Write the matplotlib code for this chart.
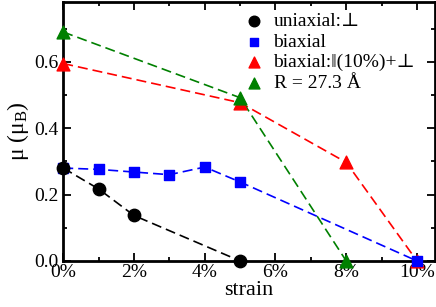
import matplotlib
matplotlib.use('Agg')
from matplotlib import pyplot as plt
from matplotlib.ticker import MultipleLocator, FuncFormatter

plt.rcParams['font.family'] = ['Liberation Serif', 'DejaVu Serif']
plt.rcParams['mathtext.fontset'] = 'custom'
plt.rcParams['mathtext.rm'] = 'Liberation Serif'
plt.rcParams['mathtext.it'] = 'Liberation Serif:italic'

# strain (%) and moment (mu_B)
uni_x = [0, 1, 2, 5]
uni_y = [0.28, 0.217, 0.137, 0.0]
bi_x = [0, 1, 2, 3, 4, 5, 10]
bi_y = [0.28, 0.276, 0.268, 0.26, 0.283, 0.238, 0.0]
bipar_x = [0, 5, 8, 10]
bipar_y = [0.595, 0.477, 0.297, 0.0]
r_x = [0, 5, 8]
r_y = [0.69, 0.492, 0.0]

labels = ['uniaxial:\u22a5', 'biaxial', 'biaxial:\u2016(10%)+\u22a5', 'R = 27.3 \u00c5']

fig = plt.figure(figsize=(4.36, 3.07), dpi=100)
ax = fig.add_axes([0.145, 0.15, 0.852, 0.843])

ax.plot(uni_x, uni_y, '--', c='black', lw=1.2, dashes=(6, 3), zorder=2)
ax.plot(bi_x, bi_y, '--', c='blue', lw=1.2, dashes=(6, 3), zorder=2)
ax.plot(bipar_x, bipar_y, '--', c='red', lw=1.2, dashes=(6, 3), zorder=2)
ax.plot(r_x, r_y, '--', c='green', lw=1.2, dashes=(6, 3), zorder=2)

ax.scatter(uni_x, uni_y, marker='o', s=80, c='black', label=labels[0], zorder=5, clip_on=False)
ax.scatter(bi_x, bi_y, marker='s', s=45, c='blue', label=labels[1], zorder=4, clip_on=False)
ax.scatter(bipar_x, bipar_y, marker='^', s=85, c='red', label=labels[2], zorder=3, clip_on=False)
ax.scatter(r_x, r_y, marker='^', s=85, c='green', label=labels[3], zorder=3, clip_on=False)

ax.set_xlim(0, 10.5)
ax.set_ylim(0, 0.78)
ax.xaxis.set_major_locator(MultipleLocator(2))
ax.xaxis.set_minor_locator(MultipleLocator(1))
ax.yaxis.set_major_locator(MultipleLocator(0.2))
ax.yaxis.set_minor_locator(MultipleLocator(0.1))
ax.xaxis.set_major_formatter(FuncFormatter(lambda v, p: '%d%%' % round(v)))
ax.yaxis.set_major_formatter(FuncFormatter(lambda v, p: '%.1f' % v))
ax.tick_params(which='both', direction='in', top=True, right=True, labelsize=14, width=1.3)
ax.tick_params(which='major', length=6)
ax.tick_params(which='minor', length=3)
ax.tick_params(axis='x', pad=2)
for s in ax.spines.values():
    s.set_linewidth(2)

ax.set_xlabel('strain', fontsize=16, labelpad=0)
ax.set_ylabel('\u03bc (\u03bc$_\\mathrm{B}$)', fontsize=17, labelpad=2)

ax.legend(loc='upper right', bbox_to_anchor=(0.99, 1.02), frameon=False, fontsize=14,
          handletextpad=0.0, labelspacing=0.15, borderpad=0.3, scatterpoints=1,
          markerscale=0.85)

fig.savefig('out.png', dpi=100)
